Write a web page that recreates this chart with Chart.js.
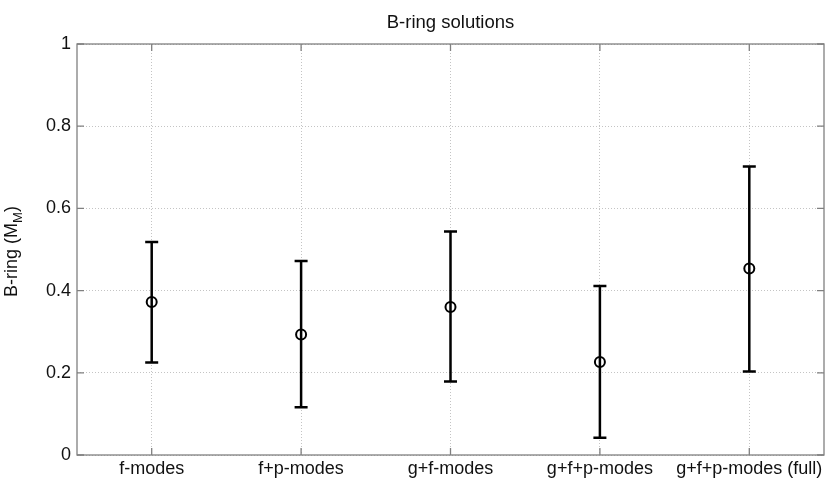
<!DOCTYPE html>
<html>
<head>
<meta charset="utf-8">
<script src="https://cdn.jsdelivr.net/npm/chart.js@4"></script>
<style>
  html, body { margin: 0; padding: 0; background: #fff; }
  #wrap { width: 831px; height: 486px; }
</style>
</head>
<body>
<div id="wrap"><canvas id="ringChart"></canvas></div>
<script>
const categories = ["f-modes", "f+p-modes", "g+f-modes", "g+f+p-modes", "g+f+p-modes (full)"];
const centers = [0.372, 0.293, 0.360, 0.226, 0.454];
const lowers = [0.225, 0.116, 0.179, 0.042, 0.203];
const uppers = [0.518, 0.472, 0.544, 0.411, 0.702];
const yTicks = [0, 0.2, 0.4, 0.6, 0.8, 1];

const FONT = "'Liberation Sans', Arial, Helvetica, sans-serif";

// error bars, box, inward tick marks, title and y label
const matlabPlugin = {
    id: "matlab",
    beforeDatasetsDraw(chart) {
        const ctx = chart.ctx;
        const xs = chart.scales.x, ys = chart.scales.y;
        ctx.save();
        ctx.strokeStyle = "#000";
        ctx.lineWidth = 2.5;
        categories.forEach(function (c, i) {
            const x = xs.getPixelForValue(i + 1);
            const yl = ys.getPixelForValue(lowers[i]);
            const yu = ys.getPixelForValue(uppers[i]);
            ctx.beginPath();
            ctx.moveTo(x, yl); ctx.lineTo(x, yu);
            ctx.moveTo(x - 6.5, yl); ctx.lineTo(x + 6.5, yl);
            ctx.moveTo(x - 6.5, yu); ctx.lineTo(x + 6.5, yu);
            ctx.stroke();
        });
        ctx.restore();
    },
    afterDraw(chart) {
        const ctx = chart.ctx;
        const a = chart.chartArea;
        const xs = chart.scales.x, ys = chart.scales.y;
        ctx.save();
        ctx.strokeStyle = "#808080";
        ctx.lineWidth = 1.3;
        ctx.strokeRect(a.left, a.top, a.right - a.left, a.bottom - a.top);
        ctx.beginPath();
        yTicks.forEach(function (v) {
            const y = ys.getPixelForValue(v);
            ctx.moveTo(a.left, y); ctx.lineTo(a.left + 7, y);
            ctx.moveTo(a.right, y); ctx.lineTo(a.right - 7, y);
        });
        categories.forEach(function (c, i) {
            const x = xs.getPixelForValue(i + 1);
            ctx.moveTo(x, a.bottom); ctx.lineTo(x, a.bottom - 7);
            ctx.moveTo(x, a.top); ctx.lineTo(x, a.top + 7);
        });
        ctx.stroke();

        // title
        ctx.fillStyle = "#111";
        ctx.font = "18.5px " + FONT;
        ctx.textAlign = "center";
        ctx.textBaseline = "alphabetic";
        ctx.fillText("B-ring solutions", (a.left + a.right) / 2, 28);

        // y label with subscript
        ctx.translate(17, (a.top + a.bottom) / 2 + 2);
        ctx.rotate(-Math.PI / 2);
        const main = "B-ring (M";
        ctx.font = "18px " + FONT;
        const w1 = ctx.measureText(main).width;
        ctx.font = "13px " + FONT;
        const w2 = ctx.measureText("M").width;
        ctx.font = "18px " + FONT;
        const w3 = ctx.measureText(")").width;
        let x0 = -(w1 + w2 + w3) / 2;
        ctx.textAlign = "left";
        ctx.fillText(main, x0, 0);
        ctx.font = "13px " + FONT;
        ctx.fillText("M", x0 + w1, 5);
        ctx.font = "18px " + FONT;
        ctx.fillText(")", x0 + w1 + w2, 0);
        ctx.restore();
    }
};

const ringCtx = document.getElementById("ringChart").getContext("2d");
const ringChart = new Chart(ringCtx, {
    type: "scatter",
    data: {
        datasets: [{
            label: "B-ring",
            data: centers.map(function (v, i) { return { x: i + 1, y: v }; }),
            pointStyle: "circle",
            pointRadius: 5,
            pointBorderWidth: 2,
            pointBorderColor: "#000",
            pointBackgroundColor: "rgba(255,255,255,0)",
            showLine: false
        }]
    },
    plugins: [matlabPlugin],
    options: {
        responsive: true,
        maintainAspectRatio: false,
        animation: false,
        layout: { padding: { top: 44, right: 5, left: 0, bottom: 0 } },
        plugins: {
            legend: { display: false },
            tooltip: { enabled: false }
        },
        scales: {
            x: {
                type: "linear",
                min: 0.5,
                max: 5.5,
                afterBuildTicks: function (scale) {
                    scale.ticks = categories.map(function (c, i) { return { value: i + 1 }; });
                },
                afterFit: function (scale) { scale.height = 31; },
                grid: { color: "#c4c4c4", lineWidth: 1, drawTicks: false },
                border: { display: false, dash: [1, 2] },
                ticks: {
                    color: "#111",
                    padding: 3,
                    maxRotation: 0,
                    autoSkip: false,
                    font: { family: FONT, size: 18 },
                    callback: function (v) { return categories[Math.round(v) - 1]; }
                }
            },
            y: {
                min: 0,
                max: 1,
                afterBuildTicks: function (scale) {
                    scale.ticks = yTicks.map(function (v) { return { value: v }; });
                },
                afterFit: function (scale) { scale.width = 77; },
                grid: { color: "#c4c4c4", lineWidth: 1, drawTicks: false },
                border: { display: false, dash: [1, 2] },
                ticks: {
                    color: "#111",
                    padding: 6,
                    font: { family: FONT, size: 18 },
                    callback: function (v) { return String(v); }
                }
            }
        }
    }
});
</script>
</body>
</html>
